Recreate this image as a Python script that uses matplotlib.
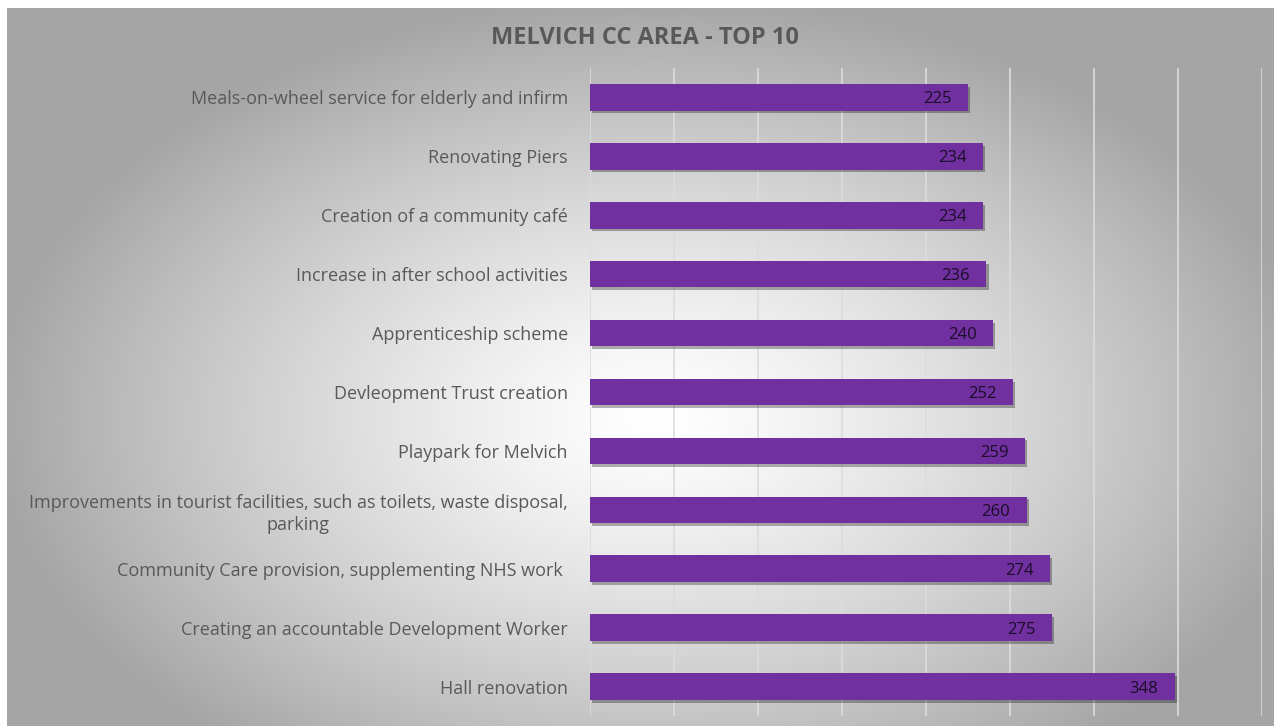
import matplotlib.pyplot as plt
import matplotlib.patheffects as pe
import numpy as np

# data (top to bottom as shown)
labels = [
    "Meals-on-wheel service for elderly and infirm",
    "Renovating Piers",
    "Creation of a community café",
    "Increase in after school activities",
    "Apprenticeship scheme",
    "Devleopment Trust creation",
    "Playpark for Melvich",
    "Improvements in tourist facilities, such as toilets, waste disposal,\nparking",
    "Community Care provision, supplementing NHS work ",
    "Creating an accountable Development Worker",
    "Hall renovation",
]
values = [225, 234, 234, 236, 240, 252, 259, 260, 274, 275, 348]
title = "MELVICH CC AREA - TOP 10"

plt.rcParams['font.family'] = ['Open Sans', 'DejaVu Sans']

W, H = 1274, 726
fig = plt.figure(figsize=(W / 100, H / 100), dpi=100)
fig.patch.set_facecolor('white')

# radial grey background of the chart area
bg = fig.add_axes([7 / W, 0, 1 - 7 / W, 1 - 8 / H])
bg.set_axis_off()
yy, xx = np.mgrid[0:H - 8, 0:W - 7]
cx, cy = 650, 410
d = np.sqrt(((xx - cx) / 660) ** 2 + ((yy - cy) / 420) ** 2)
g = 1 - 0.35 * np.clip(d, 0, 1) ** 1.3
bg.imshow(np.dstack([g, g, g]), aspect='auto', extent=[0, 1, 0, 1])
bg.set_xlim(0, 1)
bg.set_ylim(0, 1)

ax = fig.add_axes([590 / W, 1 - 716 / H, (1262 - 590) / W, (716 - 68) / H])
ax.patch.set_alpha(0)

y = np.arange(len(labels))
bars = ax.barh(y, values, height=0.45, color='#7030A0', zorder=3)
for b in bars:
    b.set_path_effects([pe.SimplePatchShadow(offset=(1.5, -2), shadow_rgbFace='black', alpha=0.3),
                        pe.Normal()])

ax.bar_label(bars, labels=[str(v) for v in values], padding=-12, color='#1a0d26',
             fontsize=12, zorder=4)
for t in ax.texts:
    t.set_ha('right')
    t.set_va('center_baseline')

ax.set_xlim(0, 400)
ax.set_ylim(len(labels) - 0.5, -0.5)
ax.set_xticks(np.arange(0, 401, 50))
ax.set_xticklabels([])
ax.grid(axis='x', color='#dcdcdc', linewidth=1.2, zorder=0)
ax.tick_params(length=0)
ax.set_yticks(y)
ax.set_yticklabels(labels, fontsize=13, color='#595959', multialignment='center',
                   linespacing=1.3)
ax.tick_params(axis='y', pad=16)
for s in ax.spines.values():
    s.set_visible(False)

fig.text(645 / W, 1 - 38 / H, title, ha='center', va='center', fontsize=17,
         fontweight='bold', color='#595959')

fig.savefig('out.png', dpi=100)
